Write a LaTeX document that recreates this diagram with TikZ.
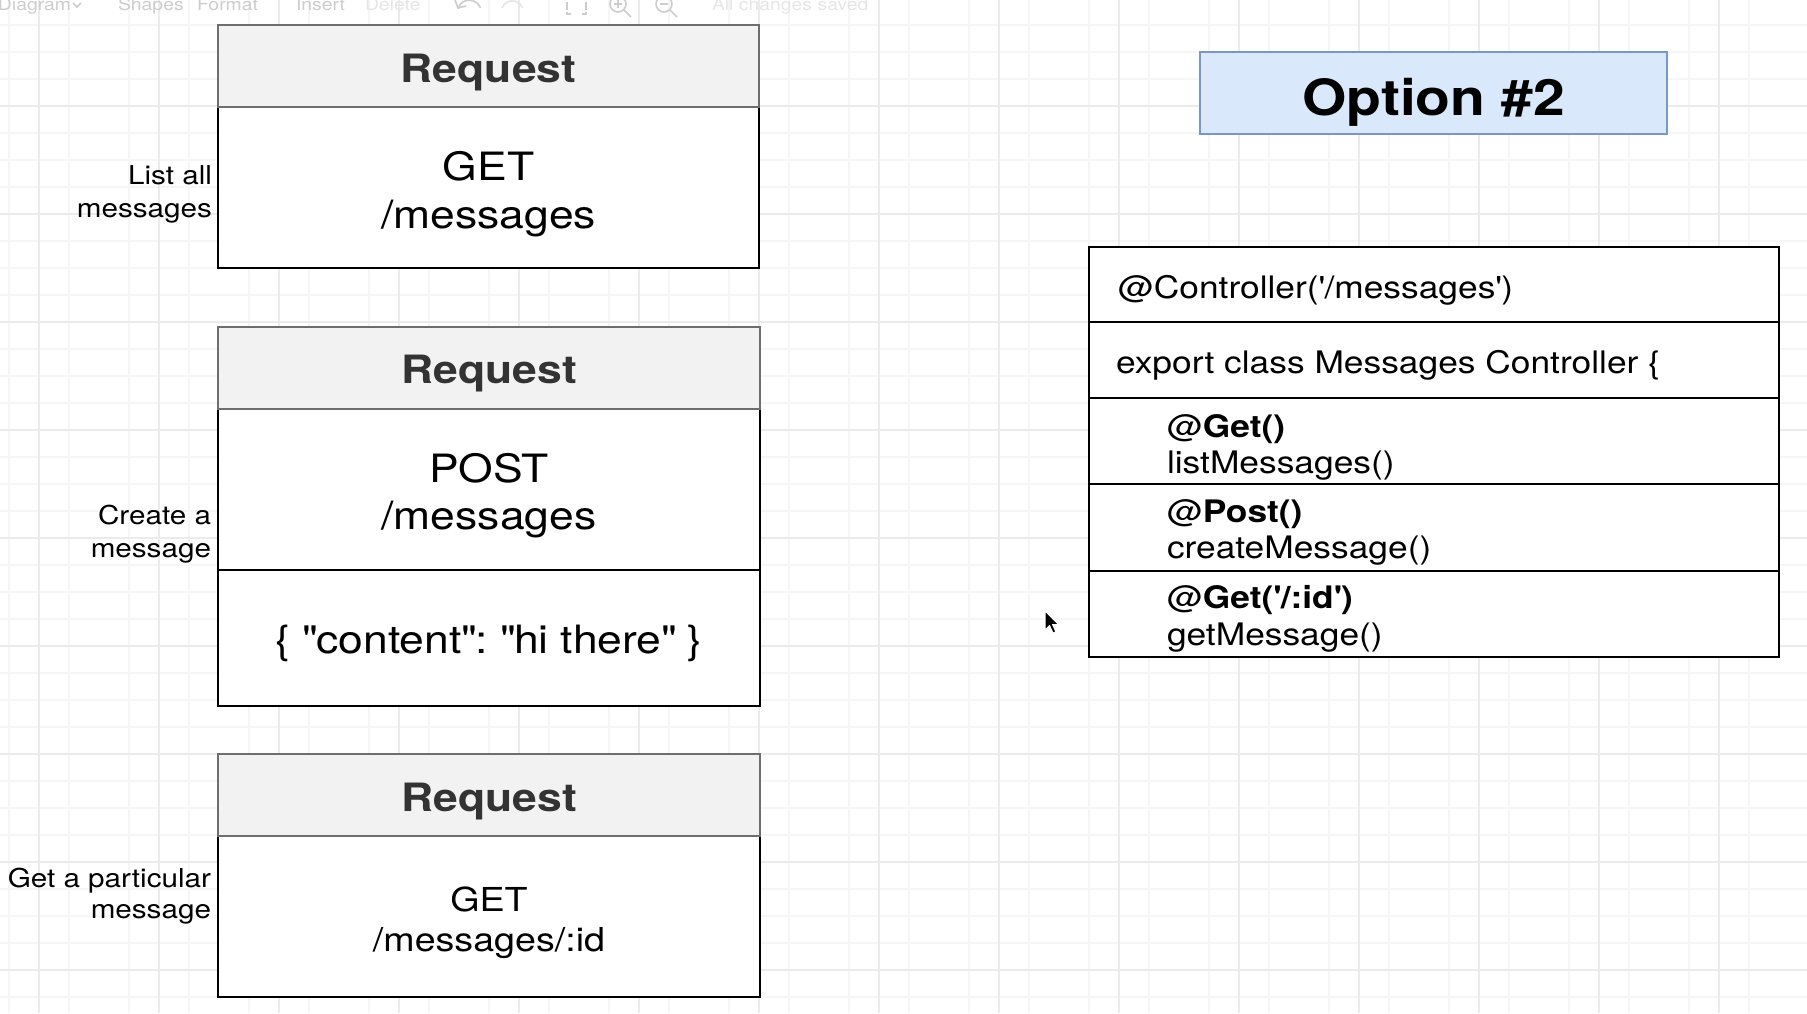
\documentclass[tikz,border=0pt]{standalone}
\usepackage{fontspec}
\setmainfont{TeX Gyre Heros}[FakeStretch=1.14]
\usetikzlibrary{fit}
\frenchspacing
\definecolor{hdrfill}{HTML}{F2F2F3}
\definecolor{hdrline}{HTML}{6E6E6E}
\definecolor{reqgray}{HTML}{333333}
\definecolor{optfill}{HTML}{DAE8FC}
\definecolor{optline}{HTML}{7A96C6}
\definecolor{gridminor}{HTML}{F6F6F6}
\definecolor{gridmajor}{HTML}{EBEBEB}
\definecolor{uigray}{HTML}{CDCDCD}
\definecolor{uilight}{HTML}{E6E6E6}
\begin{document}
\begin{tikzpicture}[x=1pt,y=-1pt,
  every node/.style={inner sep=0pt,outer sep=0pt},
  bodybox/.style={draw=black,line width=2.7pt,fill=white,inner sep=0pt},
  hdrbox/.style={draw=hdrline,line width=2.4pt,fill=hdrfill,inner sep=0pt},
  ctrlbox/.style={draw=black,line width=2.5pt,fill=white,inner sep=0pt},
  optbox/.style={draw=optline,line width=2.2pt,fill=optfill,inner sep=0pt},
  reqtxt/.style={font=\fontsize{39}{47}\selectfont\bfseries,text=reqgray,anchor=base},
  bodytxt/.style={font=\fontsize{39}{47}\selectfont,anchor=base},
  smalltxt/.style={font=\fontsize{33}{40}\selectfont,anchor=base},
  lbltxt/.style={font=\fontsize{26}{32}\selectfont,anchor=base east},
  ctrltxt/.style={font=\fontsize{31}{37}\selectfont,anchor=base west},
  opttxt/.style={font=\fontsize{50}{60}\selectfont\bfseries,anchor=base},
  uitxt/.style={font=\fontsize{17}{20}\selectfont,text=uigray,anchor=base west},
  uiicon/.style={draw=uigray,line width=1.6pt}
]
% background and bounding box
\fill[white] (0,0) rectangle (1807,1013);
\useasboundingbox (0,0) rectangle (1807,1013);
% grid
\foreach \gx in {9,69,...,1809} \draw[gridminor,line width=1.2pt] (\gx,0) -- (\gx,1013);
\foreach \gy in {25,52,79,133,160,187,241,268,295,349,376,403,457,484,511,565,592,619,673,700,727,781,808,835,889,916,943,997}
  \draw[gridminor,line width=1.2pt] (0,\gy) -- (1807,\gy);
\foreach \gx in {39,159,...,1799} \draw[gridmajor,line width=1.4pt] (\gx,0) -- (\gx,1013);
\foreach \gy in {106,214,...,1000} \draw[gridmajor,line width=1.4pt] (0,\gy) -- (1807,\gy);

% faint toolbar
\node[uitxt] (tbdiag) at (-2,10) {Diagram};
\draw[uiicon] (73,3) -- (77,7) -- (81,3);
\node[uitxt] (tbshapes) at (118,10) {Shapes};
\node[uitxt] (tbformat) at (197,10) {Format};
\node[uitxt] (tbinsert) at (296,10) {Insert};
\node[uitxt,text=uilight] (tbdelete) at (365,10) {Delete};
\draw[uiicon] (458,8) arc (200:340:12);
\draw[uiicon] (455,0) -- (458,8) -- (466,6);
\draw[uiicon,draw=uilight] (502,8) arc (200:340:11);
\draw[uiicon] (567,2) -- (567,10) (586,2) -- (586,10);
\draw[uiicon] (567,12) -- (567,14) -- (571,14) (586,12) -- (586,14) -- (582,14);
\draw[uiicon] (618,4) circle (8);
\draw[uiicon] (624,10) -- (631,17) (614,4) -- (622,4) (618,0) -- (618,8);
\draw[uiicon] (664,4) circle (8);
\draw[uiicon] (670,10) -- (677,17) (660,4) -- (668,4);
\node[uitxt,text=uilight] (tbsaved) at (712,10) {All changes saved};

% ---- Request 1
\node[bodybox,fit={(218,107) (759,268)}] (b1) {};
\node[hdrbox,fit={(218,25) (759,107)}] (h1) {};
\node[reqtxt] (h1t) at (488.5,82) {Request};
\node[bodytxt] (b1a) at (488.5,180) {GET};
\node[bodytxt] (b1b) at (488.5,228) {/messages};
\node[lbltxt] (l1a) at (212,184) {List all};
\node[lbltxt] (l1b) at (212,217) {messages};

% ---- Request 2
\node[bodybox,fit={(218,409) (760,570)}] (b2) {};
\node[bodybox,fit={(218,570) (760,706)}] (j2) {};
\node[hdrbox,fit={(218,327) (760,409)}] (h2) {};
\node[reqtxt] (h2t) at (489,383) {Request};
\node[bodytxt] (b2a) at (489,482) {POST};
\node[bodytxt] (b2b) at (489,529) {/messages};
\node[bodytxt] (j2t) at (489,653) {\{ \textquotedbl content\textquotedbl: \textquotedbl hi there\textquotedbl\ \}};
\node[lbltxt] (l2a) at (211,524) {Create a};
\node[lbltxt] (l2b) at (211,557) {message};

% ---- Request 3
\node[bodybox,fit={(218,836) (760,997)}] (b3) {};
\node[hdrbox,fit={(218,754) (760,836)}] (h3) {};
\node[reqtxt] (h3t) at (489,811) {Request};
\node[smalltxt] (b3a) at (489,911) {GET};
\node[smalltxt] (b3b) at (489,951) {/messages/:id};
\node[lbltxt] (l3a) at (211,887) {Get a particular};
\node[lbltxt] (l3b) at (211,918) {message};

% ---- Option #2
\node[optbox,fit={(1200,52) (1667,134)}] (opt) {};
\node[opttxt] (optt) at (1433.5,115) {Option \#2};

% ---- Controller
\node[ctrlbox,fit={(1089,247) (1779,322)}] (c1) {};
\node[ctrlbox,fit={(1089,322) (1779,398)}] (c2) {};
\node[ctrlbox,fit={(1089,398) (1779,484)}] (c3) {};
\node[ctrlbox,fit={(1089,484) (1779,571)}] (c4) {};
\node[ctrlbox,fit={(1089,571) (1779,657)}] (c5) {};
\node[ctrltxt] (c1t) at (1118,298) {@Controller(\textquotesingle/messages\textquotesingle)};
\node[ctrltxt] (c2t) at (1116,373) {export class Messages Controller \{};
\node[ctrltxt] (c3a) at (1167,437) {@\textbf{Get()}};
\node[ctrltxt] (c3b) at (1167,473) {listMessages()};
\node[ctrltxt] (c4a) at (1167,522) {@\textbf{Post()}};
\node[ctrltxt] (c4b) at (1167,558) {createMessage()};
\node[ctrltxt] (c5a) at (1167,608) {@\textbf{Get(\textquotesingle/:id\textquotesingle)}};
\node[ctrltxt] (c5b) at (1167,645) {getMessage()};

% mouse cursor
\filldraw[fill=black,draw=white,line width=1pt,line join=round]
  (1045,611) -- (1045,630) -- (1049.5,625.5) -- (1053,633) -- (1056,631.8) -- (1052.5,624.5) -- (1058.5,624.5) -- cycle;
\end{tikzpicture}
\end{document}
